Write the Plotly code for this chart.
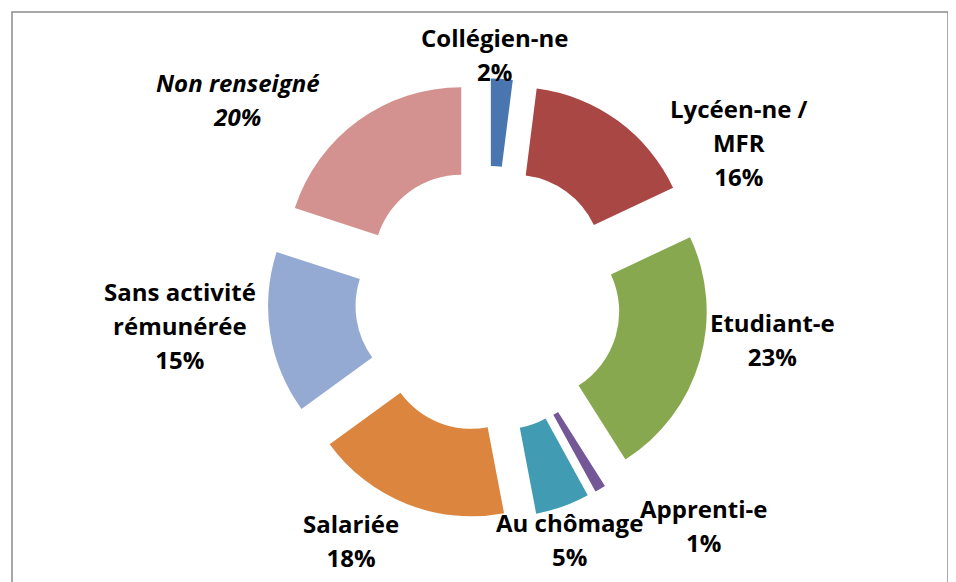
import math
import plotly.graph_objects as go

# répartition par situation (%), dans l'ordre des secteurs, sens horaire depuis midi
labels = ["Collégien-ne", "Lycéen-ne /<br>MFR", "Etudiant-e", "Apprenti-e",
          "Au chômage", "Salariée", "Sans activité<br>rémunérée", "Non renseigné"]
values = [2, 16, 23, 1, 5, 18, 15, 20]
colors = ["#4a76b0", "#a94745", "#88a84f", "#735796",
          "#419cb3", "#db853f", "#95aad3", "#d3918f"]

# label placement ("best fit" à la Excel): offset from the slice mid-angle (deg), distance (px)
LBL_DANG = [-2, 22, -8, -13, 1, 8, 4, -15.5]
LBL_DIST = [245, 296, 287, 313, 254, 278, 309, 320]

W, H = 956, 582
PAD = 8                    # the page body adds an 8px margin around the plot div
CX, CY = 488 - PAD, 299 - PAD   # pie centre, px
DOM = 441                  # pie box, px

fig = go.Figure(go.Pie(
    labels=labels, values=values, textinfo="none",
    sort=False, direction="clockwise", rotation=0,
    hole=0.5, pull=[0.26] * len(values),
    marker=dict(colors=colors, line=dict(width=0)),
    domain=dict(x=[(CX - DOM / 2) / W, (CX + DOM / 2) / W],
                y=[1 - (CY + DOM / 2) / H, 1 - (CY - DOM / 2) / H]),
    showlegend=False, hoverinfo="label+percent"))

total = sum(values)
ann = []
cum = 0
for lab, v, da, r in zip(labels, values, LBL_DANG, LBL_DIST):
    mid = (cum + v / 2) / total * 360 + da
    cum += v
    t = f"{lab}<br>{round(100 * v / total)}%"
    if lab == "Non renseigné":
        t = f"<i>{t}</i>"
    x = CX + r * math.sin(math.radians(mid))
    y = CY - r * math.cos(math.radians(mid))
    ann.append(dict(x=x / W, y=1 - y / H, xref="paper", yref="paper",
                    text=f"<b><span style='font-size:24px'>{t}</span></b>",
                    showarrow=False, xanchor="center", yanchor="middle",
                    font=dict(size=26)))

fig.update_layout(
    width=W, height=H, paper_bgcolor="white", plot_bgcolor="white",
    font=dict(family="Open Sans", color="black"),
    margin=dict(l=0, r=0, t=0, b=0),
    annotations=ann,
    shapes=[dict(type="rect", xref="paper", yref="paper",
                 x0=(12 - PAD) / W, x1=(948 - PAD) / W,
                 y0=-0.05, y1=1 - (12 - PAD) / H,
                 line=dict(color="#8c8c8c", width=1.5))])

fig.write_html("out.html")
